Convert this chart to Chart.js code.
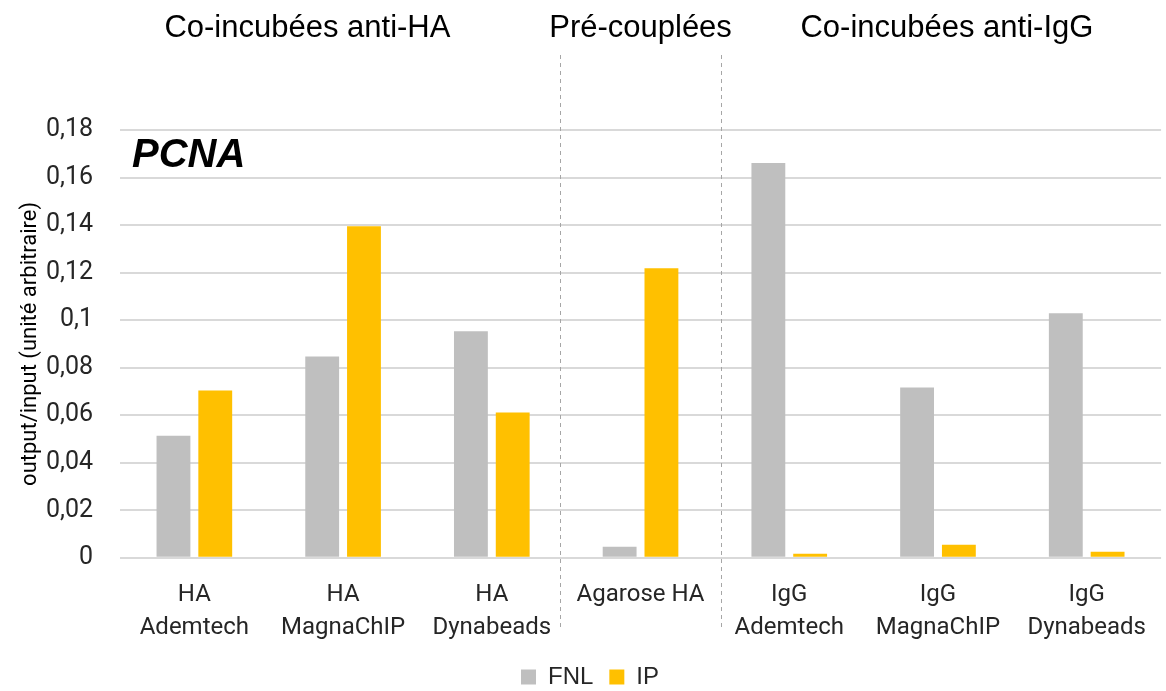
<!DOCTYPE html>
<html><head><meta charset="utf-8">
<script src="https://cdn.jsdelivr.net/npm/chart.js@4/dist/chart.umd.min.js"></script>
<style>html,body{margin:0;padding:0;background:#fff}#wrap{width:1166px;height:691px}</style>
</head><body><div id="wrap"><canvas id="c" width="1166" height="691"></canvas></div>
<script>
const categories = [["HA","Ademtech"],["HA","MagnaChIP"],["HA","Dynabeads"],["Agarose HA"],["IgG","Ademtech"],["IgG","MagnaChIP"],["IgG","Dynabeads"]];
const fnlValues = [0.0514, 0.0847, 0.0953, 0.0046, 0.1661, 0.0717, 0.1029];
const ipValues = [0.0704, 0.1395, 0.0611, 0.1218, 0.0017, 0.0055, 0.0025];
const seriesNames = ["FNL","IP"];
const groupHeaders = ["Co-incubées anti-HA","Pré-couplées","Co-incubées anti-IgG"];
const headerIndex = [0.76, 3.0, 5.06];
const dividerIndex = [2.46, 3.54];
const yTitle = "output/input (unité arbitraire)";
const panelLabel = "PCNA";

const tickFont = {family:"Roboto", size:25};
const deco = {
  id:'deco',
  afterLayout(chart){
    const lg = chart.legend;
    if (lg) { lg.top -= 16; lg.bottom -= 16; }
  },
  afterDraw(chart){
    const ctx = chart.ctx, x = chart.scales.x;
    ctx.save();
    ctx.strokeStyle = '#A6A6A6'; ctx.lineWidth = 1; ctx.setLineDash([4,4]);
    dividerIndex.forEach(i=>{ const px = Math.round(x.getPixelForValue(i))+0.5;
      ctx.beginPath(); ctx.moveTo(px,55); ctx.lineTo(px,630); ctx.stroke(); });
    ctx.setLineDash([]);
    ctx.fillStyle = '#000'; ctx.textAlign='center'; ctx.textBaseline='middle';
    ctx.font = '31px "Liberation Sans", Arial, sans-serif';
    groupHeaders.forEach((h,k)=>{ ctx.fillText(h, x.getPixelForValue(headerIndex[k]), 28); });
    ctx.font = 'italic bold 40px "Liberation Sans", Arial, sans-serif';
    ctx.textAlign='left';
    ctx.fillText(panelLabel, 132, 156);
    ctx.restore();
  }
};
new Chart(document.getElementById('c'), {
  type:'bar',
  data:{ labels:categories, datasets:[
    {label:seriesNames[0], data:fnlValues, backgroundColor:'#BFBFBF'},
    {label:seriesNames[1], data:ipValues, backgroundColor:'#FFC000'}
  ]},
  options:{
    responsive:false, animation:false,
    layout:{padding:{top:130, right:0, left:14, bottom:-24}},
    datasets:{bar:{categoryPercentage:0.562, barPercentage:0.81}},
    plugins:{
      legend:{position:'bottom', labels:{font:{family:"Liberation Sans", size:24}, color:'#262626', boxWidth:15, boxHeight:15, padding:16}},
      tooltip:{enabled:false}
    },
    scales:{
      x:{grid:{display:false, drawTicks:false}, border:{display:false},
         ticks:{font:{family:"Roboto", size:24, lineHeight:1.4}, color:'#262626', maxRotation:0, padding:20}},
      y:{min:0, max:0.18, grid:{color:'#D9D9D9', lineWidth:2, drawTicks:false}, border:{display:false},
         afterFit(scale){ scale.width = 106; },
         ticks:{stepSize:0.02, font:tickFont, color:'#262626', padding:27,
           callback:v=>String(Math.round(v*100)/100).replace('.',',')},
         title:{display:true, text:yTitle, font:{family:"Roboto", size:22}, color:'#000', padding:{top:3,bottom:0}}}
    }
  },
  plugins:[deco]
});
</script></body></html>
